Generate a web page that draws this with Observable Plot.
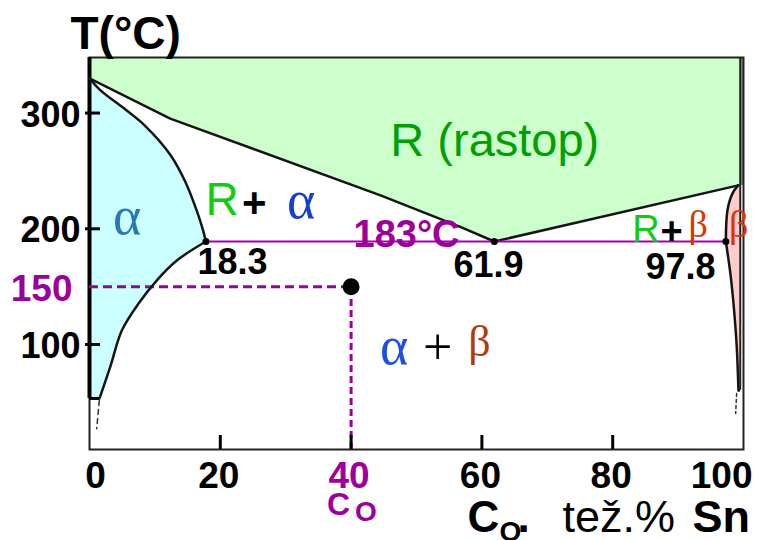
<!DOCTYPE html>
<html><head><meta charset="utf-8">
<script src="https://cdn.jsdelivr.net/npm/d3@7"></script>
<script src="https://cdn.jsdelivr.net/npm/@observablehq/plot@0.6"></script>
<style>body{margin:0;background:#fff;} svg{display:block}</style>
</head><body><div id="chart"></div>
<script>
// ---- axes ----
const xTicks = [0, 20, 40, 60, 80, 100];
const yTicks = [100, 200, 300];
const xDomain = [0, 100];
const yDomain = [9.3, 348];

// ---- phase boundaries (wt% Sn, °C) ----
const liquidusX = [0, 12.35, 44.5, 56.7, 61.9, 99.2, 99.5];
const liquidusT = [330, 295.2, 228.9, 201.6, 189, 237.5, 237.5];
const alphaSolidusX = [0, 1.6, 5.5, 8.5, 12.35, 14.7, 16.5, 17.3, 17.8];
const alphaSolidusT = [330, 320, 303, 289, 264, 240, 214, 200, 189];
const alphaSolvusX = [17.8, 13.4, 10.3, 7.5, 4.96, 3.17, 1.53];
const alphaSolvusT = [189, 172.8, 155.5, 135.4, 112.3, 80.7, 53.4];
const betaUpperX = [99.17, 98.3, 97.55, 97.3];
const betaUpperT = [237.5, 230.4, 216, 189];
const betaLowerX = [97.3, 98.06, 98.56, 98.97, 99.23];
const betaLowerT = [189, 158.3, 129.5, 97.8, 60.4];
const alphaDashX = [1.5, 1.1];
const alphaDashT = [51.6, 27.2];
const betaDashX = [98.95, 98.8];
const betaDashT = [57.7, 40.4];
const pureSnEdge = 99.5;

// ---- eutectic ----
const eutecticT = 189;
const eutecticX = [17.8, 61.9, 97.3];
const eutecticLabels = ["18.3", "61.9", "97.8"];
const eutecticLabelX = [16.5, 55.66, 85.0];
const eutecticLabelT = [161.1, 158.2, 156.8];

// ---- example alloy ----
const sampleC = [40];
const sampleT = [150];

const pts = (xs, ts) => xs.map((x, i) => ({x, T: ts[i]}));
const purple = "#9c009c";
const sans = "Liberation Sans, Arial, sans-serif";
const serif = "Liberation Serif, 'Times New Roman', serif";
const lbl = (s, x, y, o) => Plot.text([s], {x, y, text: d => d, textAnchor: "start", lineAnchor: "bottom", ...o});
const flbl = (s, anchor, dx, dy, o) => Plot.text([s], {frameAnchor: anchor, text: d => d, textAnchor: "start", lineAnchor: "bottom", dx, dy, ...o});

const yMin = yDomain[0], yMax = yDomain[1];
const line = {stroke: "#151515", strokeWidth: 2.5};

const chart = Plot.plot({
  width: 759, height: 540,
  marginLeft: 89, marginRight: 16, marginTop: 57, marginBottom: 91,
  style: {fontFamily: sans, background: "#fff", overflow: "visible"},
  x: {domain: xDomain, axis: null},
  y: {domain: yDomain, axis: null},
  marks: [
    // fills
    Plot.areaY(pts(liquidusX, liquidusT), {x: "x", y1: "T", y2: yMax, fill: "#ccffcc"}),
    Plot.areaX(pts(alphaSolidusX, alphaSolidusT), {y: "T", x1: 0, x2: "x", curve: "catmull-rom", fill: "#ccffff"}),
    Plot.areaX(pts(alphaSolvusX, alphaSolvusT), {y: "T", x1: 0, x2: "x", curve: "catmull-rom", fill: "#ccffff"}),
    Plot.areaX(pts(betaUpperX, betaUpperT), {y: "T", x1: "x", x2: pureSnEdge, curve: "catmull-rom", fill: "#ffcccc"}),
    Plot.areaX(pts(betaLowerX, betaLowerT), {y: "T", x1: "x", x2: pureSnEdge, curve: "catmull-rom", fill: "#ffcccc"}),
    Plot.rect([0], {x1: pureSnEdge, x2: 100, y1: liquidusT[liquidusT.length - 1], y2: yMax, fill: "#8a8a8a"}),
    // frame
    Plot.frame({stroke: "#222", strokeWidth: 2}),
    Plot.ruleX([0], {y1: alphaSolvusT[alphaSolvusT.length - 1], y2: yMax, stroke: "#000", strokeWidth: 4}),
    Plot.ruleX([pureSnEdge], {y1: betaLowerT[betaLowerT.length - 1], y2: yMax, stroke: "#222", strokeWidth: 2}),
    // guide lines to the example alloy
    Plot.ruleY(sampleT, {x1: 0, x2: sampleC[0], stroke: purple, strokeWidth: 3, strokeDasharray: "9,5"}),
    Plot.ruleX(sampleC, {y1: yMin, y2: sampleT[0], stroke: purple, strokeWidth: 3, strokeDasharray: "7,4"}),
    // boundaries
    Plot.line(pts(liquidusX.slice(0, -1), liquidusT.slice(0, -1)), {x: "x", y: "T", ...line}),
    Plot.line(pts(alphaSolidusX, alphaSolidusT), {x: "x", y: "T", curve: "catmull-rom", ...line}),
    Plot.line(pts(alphaSolvusX, alphaSolvusT), {x: "x", y: "T", curve: "catmull-rom", ...line}),
    Plot.line(pts(betaUpperX, betaUpperT), {x: "x", y: "T", curve: "catmull-rom", ...line}),
    Plot.line(pts(betaLowerX, betaLowerT), {x: "x", y: "T", curve: "catmull-rom", ...line}),
    Plot.ruleY([alphaSolvusT[alphaSolvusT.length - 1]], {x1: 0, x2: alphaSolvusX[alphaSolvusX.length - 1], stroke: "#000", strokeWidth: 3}),
    Plot.ruleY([betaLowerT[betaLowerT.length - 1]], {x1: betaLowerX[betaLowerX.length - 1], x2: pureSnEdge, stroke: "#000", strokeWidth: 2.5}),
    Plot.line(pts(alphaDashX, alphaDashT), {x: "x", y: "T", stroke: "#333", strokeWidth: 1.5, strokeDasharray: "5,4"}),
    Plot.line(pts(betaDashX, betaDashT), {x: "x", y: "T", stroke: "#333", strokeWidth: 1.5, strokeDasharray: "3,3"}),
    // eutectic isotherm
    Plot.ruleY([eutecticT], {x1: eutecticX[0], x2: eutecticX[2], stroke: "#a800b0", strokeWidth: 2}),
    Plot.dot(eutecticX, {x: d => d, y: eutecticT, r: 3.5, fill: "#000"}),
    Plot.dot(sampleC, {x: d => d, y: sampleT[0], r: 8.5, fill: "#000"}),
    // ticks
    Plot.tickY(yTicks, {y: d => d, insetRight: 639, dx: -4, stroke: "#000", strokeWidth: 3}),
    Plot.tickX(xTicks.slice(1, 5), {x: d => d, insetTop: 378, stroke: "#000", strokeWidth: 3}),
    // tick labels
    Plot.text(yTicks, {x: 0, y: d => d, text: d => String(d), textAnchor: "end", dx: -9, dy: 2, fontSize: 36, fontWeight: "bold", fill: "#000"}),
    Plot.text(sampleT, {x: 0, y: d => d, text: d => String(d), textAnchor: "end", dx: -17, dy: 2, fontSize: 37, fontWeight: "bold", fill: purple}),
    Plot.text([0], {x: d => d, frameAnchor: "bottom", text: d => String(d), lineAnchor: "top", dy: 12, dx: 6, fontSize: 37, fontWeight: "bold", fill: "#000"}),
    Plot.text([20, 60, 80], {x: d => d, frameAnchor: "bottom", text: d => String(d), lineAnchor: "top", dy: 12, dx: -1.5, fontSize: 37, fontWeight: "bold", fill: "#000"}),
    Plot.text(sampleC, {x: d => d, frameAnchor: "bottom", text: d => String(d), lineAnchor: "top", dy: 12, dx: -2, fontSize: 37, fontWeight: "bold", fill: purple}),
    Plot.text([100], {x: d => d, frameAnchor: "bottom", text: d => String(d), lineAnchor: "top", textAnchor: "end", dy: 12, dx: 9, fontSize: 37, fontWeight: "bold", fill: "#000"}),
    // C_O under 40
    Plot.text(sampleC, {x: d => d, frameAnchor: "bottom", text: () => "C", textAnchor: "start", lineAnchor: "bottom", dx: -24, dy: 65, fontSize: 32, fontWeight: "bold", fill: purple}),
    Plot.text(sampleC, {x: d => d, frameAnchor: "bottom", text: () => "O", textAnchor: "start", lineAnchor: "bottom", dx: 4, dy: 71, fontSize: 28, fontWeight: "bold", fill: purple}),
    // axis titles
    flbl("T(°C)", "top-left", -19, -9, {fontSize: 46, fontWeight: "bold", fill: "#000"}),
    flbl("C", "bottom-left", 378, 82, {fontSize: 44, fontWeight: "bold", fill: "#000"}),
    flbl("O", "bottom-left", 410, 91, {fontSize: 28, fontWeight: "bold", fill: "#000"}),
    flbl(".", "bottom-left", 428, 82, {fontSize: 44, fontWeight: "bold", fill: "#000"}),
    flbl("tež.%", "bottom-left", 473, 82, {fontSize: 45, fill: "#000"}),
    flbl("Sn", "bottom-left", 603, 82, {fontSize: 45, fontWeight: "bold", fill: "#000"}),
    // eutectic labels
    Plot.text(eutecticLabels, {x: (d, i) => eutecticLabelX[i], y: (d, i) => eutecticLabelT[i], text: d => d, textAnchor: "start", lineAnchor: "bottom", fontSize: 36, fontWeight: "bold", fill: "#000"}),
    lbl("183°C", 40.37, 184.1, {fontSize: 38, fontWeight: "bold", fill: purple}),
    // phase labels
    lbl("R (rastop)", 46.0, 263.3, {fontSize: 47, fill: "#00a000"}),
    lbl("α", 3.6, 195.9, {fontSize: 54, fontFamily: serif, fill: "#2878b4"}),
    lbl("R", 17.74, 211.5, {fontSize: 46, fill: "#11cc11"}),
    lbl("+", 23.3, 210.5, {fontSize: 42, fontWeight: "bold", fill: "#000"}),
    lbl("α", 30.2, 208.9, {fontSize: 54, fontFamily: serif, fill: "#1a3fcf"}),
    lbl("α", 44.4, 83.6, {fontSize: 54, fontFamily: serif, fill: "#1f4fe0"}),
    lbl("+", 51.0, 83.6, {fontSize: 52, fontFamily: serif, fill: "#000"}),
    lbl("β", 57.9, 90.5, {fontSize: 44, fontFamily: serif, fill: "#b03c0c"}),
    lbl("R", 83.0, 188.4, {fontSize: 38, fill: "#11cc11"}),
    lbl("+", 87.3, 186.5, {fontSize: 38, fontWeight: "bold", fill: "#000"}),
    lbl("β", 91.6, 193.1, {fontSize: 38, fontFamily: serif, fill: "#dd3300"}),
    lbl("β", 97.8, 193.1, {fontSize: 38, fontFamily: serif, fill: "#dd3300"})
  ]
});
document.getElementById("chart").append(chart);
</script>
</body></html>
